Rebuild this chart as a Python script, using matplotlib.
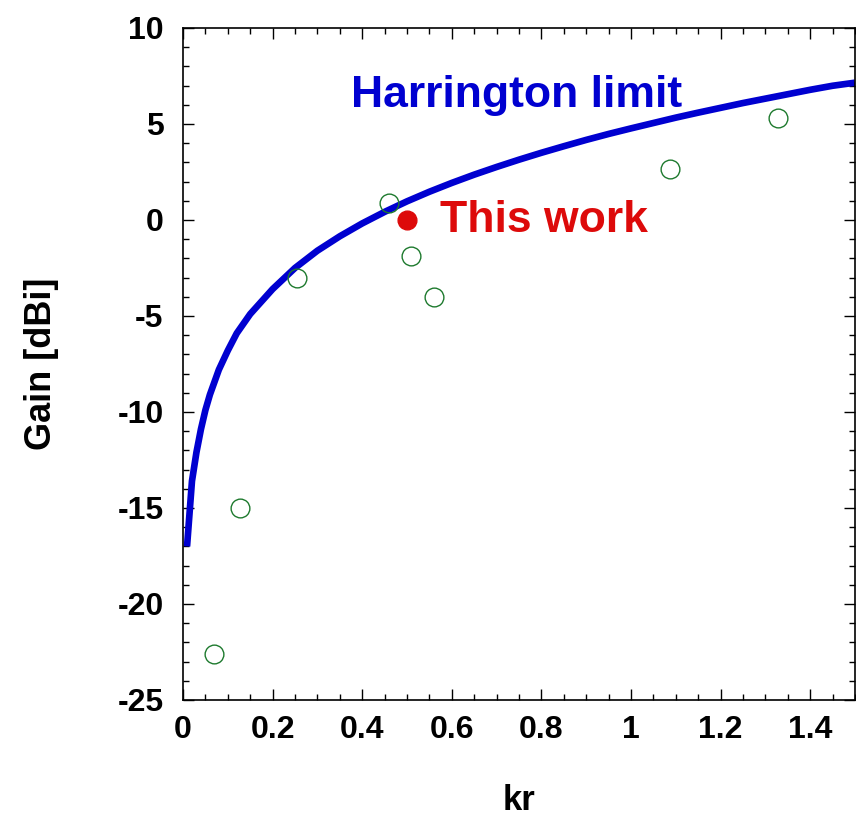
import matplotlib
matplotlib.use("Agg")
import matplotlib.pyplot as plt
from matplotlib.ticker import MultipleLocator, FuncFormatter

plt.rcParams['font.family'] = ['Liberation Sans', 'DejaVu Sans']
plt.rcParams['font.weight'] = 'bold'

# Harrington limit curve
kr_limit = [0.009, 0.02, 0.03, 0.04, 0.05, 0.06, 0.08, 0.1, 0.12, 0.15, 0.2,
            0.25, 0.3, 0.35, 0.4, 0.45, 0.5, 0.55, 0.6, 0.65, 0.7, 0.75, 0.8,
            0.85, 0.9, 0.95, 1.0, 1.05, 1.1, 1.15, 1.2, 1.25, 1.3, 1.35, 1.4,
            1.45, 1.5]
gain_limit = [-17.0, -13.6, -12.1, -10.9, -9.9, -9.1, -7.8, -6.8, -5.9, -4.9, -3.6,
              -2.5, -1.6, -0.85, -0.18, 0.42, 0.97, 1.47, 1.93, 2.36, 2.76, 3.14, 3.5,
              3.84, 4.17, 4.48, 4.77, 5.05, 5.33, 5.59, 5.84, 6.09, 6.32, 6.55, 6.78,
              6.99, 7.15]

# Other works (open circles)
kr_others = [0.069, 0.127, 0.254, 0.46, 0.509, 0.56, 1.087, 1.328]
gain_others = [-22.6, -15.0, -3.0, 0.9, -1.9, -4.0, 2.65, 5.3]

# This work
kr_this = [0.50]
gain_this = [0.0]

fig = plt.figure(figsize=(8.56, 8.18), dpi=100)
ax = fig.add_axes([0.2138, 0.1443, 0.785, 0.8215])

ax.plot(kr_limit, gain_limit, color='#0000D0', lw=4.8, solid_capstyle='butt',
        solid_joinstyle='round', zorder=2)
ax.plot(kr_others, gain_others, linestyle='none', marker='o', ms=13.5,
        mfc='none', mec='#1E7A2E', mew=1.0, zorder=3)
ax.plot(kr_this, gain_this, linestyle='none', marker='o', ms=13.5,
        mfc='#DD0A0A', mec='#DD0A0A', zorder=4)

ax.text(0.745, 6.5, 'Harrington limit', color='#0000D0', fontsize=32,
        fontweight='bold', ha='center', va='center')
ax.text(0.573, -0.05, 'This work', color='#DD0A0A', fontsize=32,
        fontweight='bold', ha='left', va='center')

ax.set_xlim(0, 1.5)
ax.set_ylim(-25, 10)
ax.xaxis.set_major_locator(MultipleLocator(0.2))
ax.xaxis.set_minor_locator(MultipleLocator(0.05))
ax.yaxis.set_major_locator(MultipleLocator(5))
ax.yaxis.set_minor_locator(MultipleLocator(1))
fmt = FuncFormatter(lambda v, p: '%g' % round(v, 6))
ax.xaxis.set_major_formatter(fmt)
ax.yaxis.set_major_formatter(fmt)

ax.tick_params(which='both', direction='in', top=True, right=True, width=1.0,
               labelsize=23, color='black')
ax.tick_params(which='major', length=8)
ax.tick_params(which='minor', length=4.5)
ax.tick_params(axis='x', which='major', pad=11)
ax.tick_params(axis='y', which='major', pad=14)
for lab in ax.get_xticklabels() + ax.get_yticklabels():
    lab.set_fontweight('bold')
for s in ax.spines.values():
    s.set_linewidth(1.2)

ax.set_xlabel('kr', fontsize=25, fontweight='bold', labelpad=28)
ax.set_ylabel('Gain [dBi]', fontsize=26, fontweight='bold', labelpad=42)

fig.savefig('out.png', dpi=100)
